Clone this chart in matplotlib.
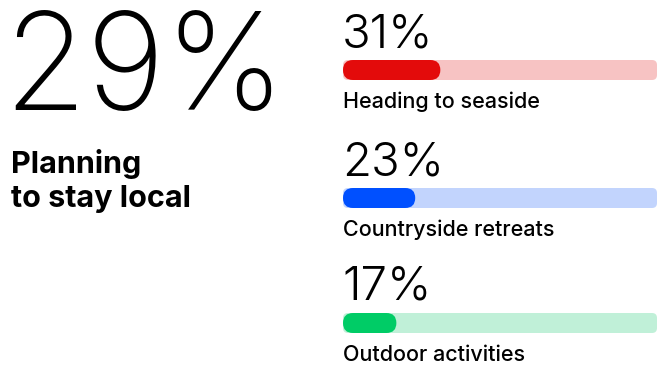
import matplotlib
matplotlib.use("Agg")
import matplotlib.pyplot as plt
from matplotlib.patches import FancyBboxPatch

# headline figure
headline_value = 29
headline_label = ["Planning", "to stay local"]

# breakdown rows
categories = ["Heading to seaside", "Countryside retreats", "Outdoor activities"]
values = [31, 23, 17]
fill_colors = ["#E30B0B", "#0050FF", "#00CC66"]
track_colors = ["#F7C3C3", "#C2D4FD", "#C0F0D8"]

W, H = 657, 367
FONT = "Inter"


def px(x, y):
    """pixel position (from top left) -> figure fraction"""
    return x / W, 1 - y / H


def rounded_bar(ax, width, color, radius_px, bar_w_px, bar_h_px):
    """bar from 0 to width in an axes with xlim 0..100, ylim 0..1"""
    x_per_px = 100 / bar_w_px
    y_per_px = 1 / bar_h_px
    aspect = y_per_px / x_per_px
    r = radius_px * x_per_px
    box = FancyBboxPatch((0, 0), width, 1,
                         boxstyle=f"round,pad=0,rounding_size={r}",
                         mutation_aspect=aspect,
                         facecolor=color, edgecolor="none")
    ax.add_patch(box)


fig = plt.figure(figsize=(W / 100, H / 100), dpi=100)
fig.patch.set_facecolor("white")

# left block
fig.text(*px(3, 110), f"{headline_value}%", fontsize=97, family=FONT,
         fontweight=200, color="black", va="baseline", ha="left")
fig.text(*px(11, 173), headline_label[0], fontsize=22, family=FONT,
         fontweight="bold", color="black", va="baseline", ha="left")
fig.text(*px(11, 207), headline_label[1], fontsize=22, family=FONT,
         fontweight="bold", color="black", va="baseline", ha="left")

# right block, one row per category
bar_left, bar_w, bar_h = 343, 314, 20
bar_tops = [60, 188, 313]
for i, (cat, v) in enumerate(zip(categories, values)):
    top = bar_tops[i]
    fig.text(*px(342, top - 13), f"{v}%", fontsize=34, family=FONT,
             fontweight=300, color="black", va="baseline", ha="left")
    fig.text(*px(343, top + 48), cat, fontsize=15.5, family=FONT,
             fontweight=500, color="black", va="baseline", ha="left")

    ax = fig.add_axes([bar_left / W, 1 - (top + bar_h) / H, bar_w / W, bar_h / H])
    ax.set_xlim(0, 100)
    ax.set_ylim(0, 1)
    ax.axis("off")
    rounded_bar(ax, 100, track_colors[i], 5, bar_w, bar_h)
    rounded_bar(ax, v, fill_colors[i], 10, bar_w, bar_h)

fig.savefig("out.png", dpi=100)
